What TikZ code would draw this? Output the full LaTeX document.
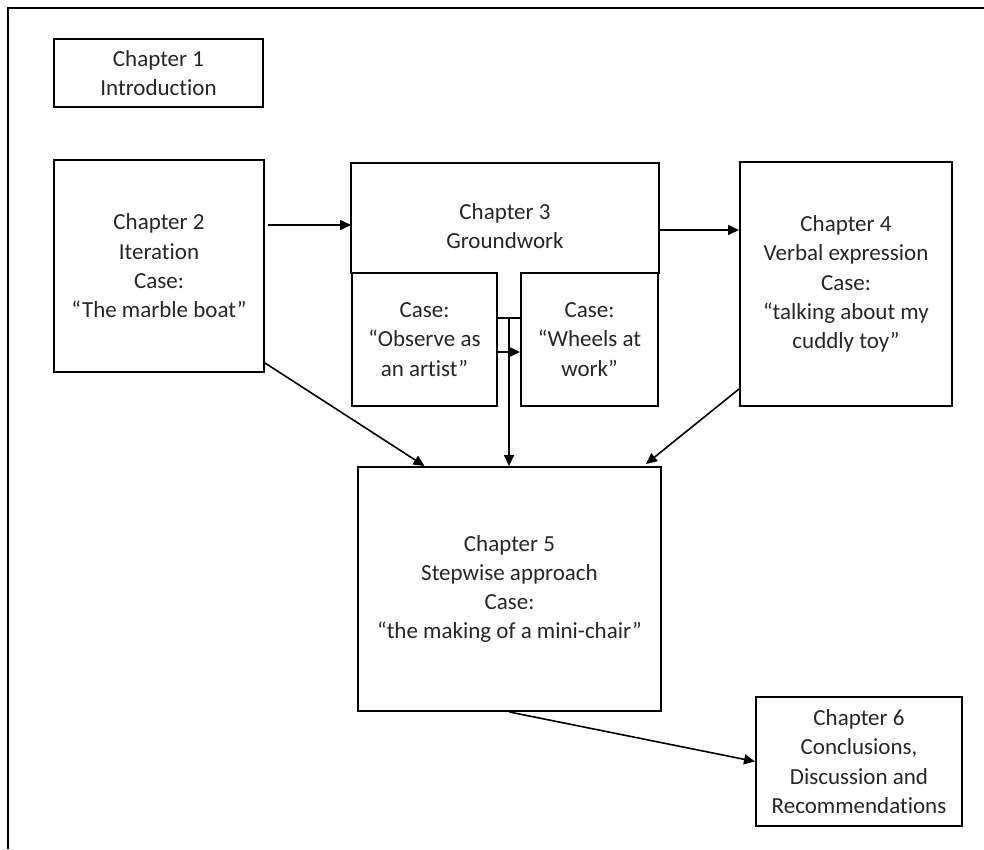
\documentclass[tikz,border=0pt]{standalone}
\usepackage{fontspec}
\setmainfont[Ligatures={NoCommon}]{Carlito}
\usetikzlibrary{arrows.meta,calc}
\definecolor{txt}{RGB}{38,38,38}
\begin{document}
\begin{tikzpicture}[x=1pt,y=-1pt,
  box/.style={draw=black,line width=2pt,inner sep=0pt,align=center,text=txt,
    font=\fontsize{23}{29.3}\selectfont},
  arr/.style={line width=1.6pt,-{Triangle[length=11pt,width=10pt]}},
  ln/.style={line width=1.6pt}]
\useasboundingbox (0,0) rectangle (984,849);
\draw[line width=2pt] (8,849) -- (8,8) -- (984,8);
% boxes
\node[box,minimum width=209pt,minimum height=68pt] (ch1) at (158.5,73) {Chapter 1\\Introduction};
\node[box,minimum width=210pt,minimum height=212pt] (ch2) at (159,266) {Chapter 2\\Iteration\\Case:\\“The marble boat”};
\node[box,draw=none,minimum width=306pt,minimum height=109pt] (ch3) at (505,218.5) {};
\node[box,draw=none] (ch3t) at (505,226) {Chapter 3\\Groundwork};
\draw[line width=2pt] (ch3.south west) -- (ch3.north west) -- (ch3.north east) -- (ch3.south east);
\node[box,minimum width=145pt,minimum height=133pt] (obs) at (424.5,339.5) {Case:\\“Observe as\\an artist”};
\node[box,minimum width=137pt,minimum height=133pt] (wh) at (589.5,339.5) {Case:\\“Wheels at\\work”};
\node[box,minimum width=212pt,minimum height=244pt] (ch4) at (846,284) {Chapter 4\\Verbal expression\\Case:\\“talking about my\\cuddly toy”};
\node[box,minimum width=303pt,minimum height=244pt] (ch5) at (509.5,589) {Chapter 5\\Stepwise approach\\Case:\\“the making of a mini-chair”};
\node[box,minimum width=206pt,minimum height=129pt] (ch6) at (859,761.5) {Chapter 6\\Conclusions,\\Discussion and\\Recommendations};
% connectors
\draw[arr] ([xshift=3pt,yshift=41pt]ch2.east) -- ([yshift=-6.5pt]ch3.west);
\draw[arr] ([yshift=-11.5pt]ch3.east) -- ([yshift=54pt]ch4.west);
\draw[arr] ([yshift=10pt]ch2.south east) -- ([xshift=-85pt]ch5.north);
\draw[arr] ([yshift=18pt]ch4.south west) -- ([xshift=-16pt,yshift=2pt]ch5.north east);
\draw[ln] ([yshift=21.5pt]obs.east) -- ([yshift=21.5pt]wh.west);
\path ($(obs.east)!0.5!(wh.west)$) ++(0,-21.5) coordinate (j);
\draw[arr] (j) -- (j |- ch5.north);
\draw[arr] ([yshift=-12.5pt]obs.east) -- ([yshift=-12.5pt]wh.west);
\draw[arr] (ch5.south) -- (ch6.west);
\end{tikzpicture}
\end{document}
